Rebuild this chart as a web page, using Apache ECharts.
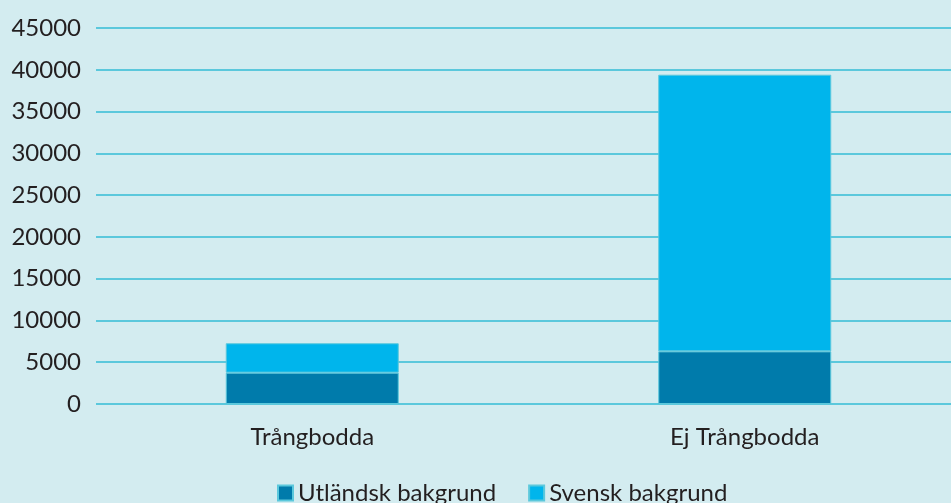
<!DOCTYPE html>
<html>
<head>
<meta charset="utf-8">
<script src="https://cdn.jsdelivr.net/npm/echarts@6/dist/echarts.min.js"></script>
<style>
  html, body { margin: 0; padding: 0; background: #d3ecf0; }
  #chart { width: 951px; height: 503px; }
</style>
</head>
<body>
<div id="chart"></div>
<script>
// data
let categories = ['Trångbodda', 'Ej Trångbodda']
let seriesNames = ['Utländsk bakgrund', 'Svensk bakgrund']
let utlandsk = [3750, 6300]
let svensk = [3520, 33110]

let myChart = echarts.init(document.getElementById('chart'))
let font = 'Lato, "DejaVu Sans", sans-serif'
let option = {
  backgroundColor: '#d3ecf0',
  animation: false,
  grid: {
    left: 96,
    width: 865,
    top: 28,
    bottom: 99,
    outerBoundsMode: 'none'
  },
  legend: {
    data: seriesNames,
    top: 481,
    left: 277,
    padding: 0,
    itemWidth: 15,
    itemHeight: 15,
    itemGap: 32,
    icon: 'rect',
    textStyle: {
      color: '#231f20',
      fontSize: 24,
      fontFamily: font
    }
  },
  xAxis: {
    type: 'category',
    data: categories,
    axisLine: { show: false },
    axisTick: { show: false },
    axisLabel: {
      color: '#231f20',
      fontSize: 24,
      fontFamily: font,
      margin: 21
    }
  },
  yAxis: {
    type: 'value',
    min: 0,
    max: 45000,
    interval: 5000,
    axisLine: { show: false },
    axisTick: { show: false },
    axisLabel: {
      color: '#231f20',
      fontSize: 24,
      fontFamily: font,
      margin: 15,
      formatter: function (v) { return String(v) }
    },
    splitLine: {
      lineStyle: {
        color: '#5bc8dc',
        width: 2
      }
    }
  },
  series: [
    {
      name: seriesNames[0],
      type: 'bar',
      stack: 'total',
      barWidth: '40%',
      itemStyle: {
        color: '#007bab',
        borderColor: '#5bc8dc',
        borderWidth: 1
      },
      data: utlandsk
    },
    {
      name: seriesNames[1],
      type: 'bar',
      stack: 'total',
      barWidth: '40%',
      itemStyle: {
        color: '#00b5ec',
        borderColor: '#5bc8dc',
        borderWidth: 1
      },
      data: svensk
    }
  ]
}
myChart.setOption(option)
</script>
</body>
</html>
